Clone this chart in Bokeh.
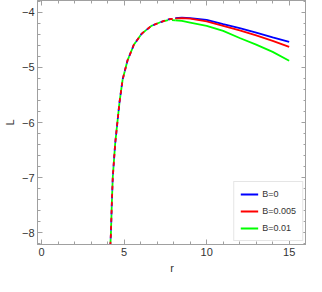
from bokeh.plotting import figure
from bokeh.models import Range1d, LinearAxis, SingleIntervalTicker, CustomJSTickFormatter
from bokeh.embed import file_html
from bokeh.resources import INLINE

# data
r = [4.16, 4.20, 4.25, 4.31, 4.38, 4.46, 4.52, 4.72, 4.91, 5.20, 5.59, 6.07,
     6.65, 7.23, 7.71, 8.10, 8.50, 9.0, 10.0, 11.0, 12.0, 13.0, 14.0, 15.0]
L_B0 = [-8.25, -8.00, -7.50, -7.00, -6.70, -6.37, -6.20, -5.63, -5.22, -4.88, -4.59, -4.39,
        -4.25, -4.18, -4.13, -4.11, -4.10, -4.11, -4.14, -4.22, -4.29, -4.37, -4.46, -4.54]
L_B0005 = [-8.25, -8.00, -7.50, -7.00, -6.70, -6.37, -6.20, -5.63, -5.22, -4.88, -4.59, -4.39,
           -4.25, -4.18, -4.13, -4.12, -4.11, -4.12, -4.17, -4.25, -4.33, -4.42, -4.52, -4.63]
L_B001 = [-8.25, -8.00, -7.50, -7.00, -6.70, -6.37, -6.20, -5.63, -5.22, -4.88, -4.59, -4.39,
          -4.25, -4.18, -4.14, -4.15, -4.16, -4.19, -4.25, -4.34, -4.47, -4.59, -4.72, -4.88]
labels = ["B=0", "B=0.005", "B=0.01"]
colors = ["#0000ff", "#ff0000", "#00ff00"]
split = 15  # dashed branch up to this index, solid afterwards
x_ticks_major = [0, 5, 10, 15]
y_ticks_major = [-8, -7, -6, -5, -4]

p = figure(width=306, height=276, x_range=Range1d(-0.25, 16.05), y_range=Range1d(-8.21, -3.79),
           output_backend="svg", toolbar_location=None,
           min_border_left=0, min_border_right=0, min_border_top=0, min_border_bottom=0)
p.grid.visible = False
p.outline_line_color = "#a0a0a0"
p.background_fill_color = "white"

frame_col = "#a0a0a0"
font = "Liberation Sans"

def style_axis(ax, labels_on):
    ax.axis_line_color = frame_col
    ax.major_tick_line_color = frame_col
    ax.minor_tick_line_color = frame_col
    ax.major_tick_in = 5
    ax.major_tick_out = 0
    ax.minor_tick_in = 3
    ax.minor_tick_out = 0
    if labels_on:
        ax.major_label_text_font = font
        ax.major_label_text_font_size = "11px"
        ax.major_label_text_color = "#333333"
        ax.major_label_standoff = 3
        ax.axis_label_text_font = font
        ax.axis_label_text_font_size = "11px"
        ax.axis_label_text_font_style = "normal"
        ax.axis_label_text_color = "#333333"
        ax.axis_label_standoff = 3
    else:
        ax.formatter = CustomJSTickFormatter(code="return ''")
        ax.major_label_standoff = 0
        ax.axis_label_standoff = 0

p.xaxis.ticker = SingleIntervalTicker(interval=5, num_minor_ticks=5)
p.yaxis.ticker = SingleIntervalTicker(interval=1, num_minor_ticks=5)
p.xaxis.axis_label = "r"
p.yaxis.axis_label = "L"
p.yaxis.major_label_overrides = {v: "\u2212" + str(abs(v)) for v in y_ticks_major}
p.xaxis.major_label_overrides = {v: str(v) for v in x_ticks_major}
for ax in p.xaxis + p.yaxis:
    style_axis(ax, True)

top = LinearAxis(ticker=SingleIntervalTicker(interval=5, num_minor_ticks=5))
right = LinearAxis(ticker=SingleIntervalTicker(interval=1, num_minor_ticks=5))
style_axis(top, False)
style_axis(right, False)
p.add_layout(top, "above")
p.add_layout(right, "right")

series = [L_B0, L_B0005, L_B001]
offsets = [0, 7, 4]
order = [0, 2, 1]  # blue, green, red on top
for i in order:
    p.line(r[:split + 1], series[i][:split + 1], line_color=colors[i], line_width=1.8,
           line_dash="4 4", line_dash_offset=offsets[i])
for i in range(3):
    p.line(r[split:], series[i][split:], line_color=colors[i], line_width=1.8,
           legend_label=labels[i])

lg = p.legend[0]
lg.location = "bottom_right"
lg.margin = 3
lg.padding = 6
lg.spacing = 5
lg.label_height = 12
lg.glyph_height = 12
lg.glyph_width = 18
lg.label_standoff = 4
lg.label_text_font = font
lg.label_text_font_size = "9px"
lg.label_text_color = "#333333"
lg.border_line_color = "#cccccc"
lg.background_fill_alpha = 1.0

open("out.html", "w").write(file_html(p, INLINE))
